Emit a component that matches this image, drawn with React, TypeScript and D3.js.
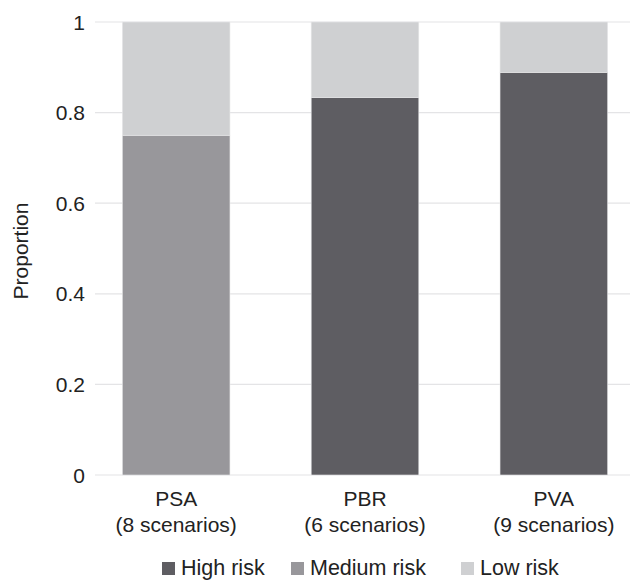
import React from "react";
import * as d3 from "d3";

const categories = ["PSA", "PBR", "PVA"];
const subLabels = ["(8 scenarios)", "(6 scenarios)", "(9 scenarios)"];
const seriesNames = ["High risk", "Medium risk", "Low risk"];
const highRisk = [0, 5 / 6, 8 / 9];
const mediumRisk = [0.75, 0, 0];
const lowRisk = [0.25, 1 / 6, 1 / 9];
const yTicks = [0, 0.2, 0.4, 0.6, 0.8, 1];
const colors = ["#5e5d62", "#98979b", "#cfd0d2"];

const W = 630;
const H = 581;
const FONT = "'Liberation Sans', Arial, Helvetica, sans-serif";

export default function App() {
  const x = d3.scaleBand<string>().domain(categories).range([94, 636]).paddingInner(0.43).paddingOuter(0.15);
  const y = d3.scaleLinear().domain([0, 1]).range([475, 22]);
  const rows = categories.map((c, i) => ({ cat: c, "High risk": highRisk[i], "Medium risk": mediumRisk[i], "Low risk": lowRisk[i] }));
  const stacked = d3.stack<any>().keys(seriesNames)(rows);
  const legendX = [162, 291, 461];

  return (
    <svg width={W} height={H} style={{ position: "absolute", left: 0, top: 0, fontFamily: FONT }}>
      <rect x={0} y={0} width={W} height={H} fill="#fff" />
      {yTicks.map((t) => (
        <g key={t}>
          <line x1={95} x2={630} y1={y(t)} y2={y(t)} stroke="#e4e4e6" strokeWidth={1.2} />
          <text x={85} y={y(t)} dy="0.36em" textAnchor="end" fontSize={21} fill="#222">
            {d3.format("")(t)}
          </text>
        </g>
      ))}
      {stacked.map((s, si) => (
        <g key={s.key} fill={colors[si]}>
          {s.map((d, i) =>
            d[1] - d[0] > 0 ? (
              <rect
                key={i}
                x={x(categories[i])!}
                y={y(d[1])}
                width={x.bandwidth()}
                height={y(d[0]) - y(d[1])}
                stroke="#e8e8ea"
                strokeWidth={0.6}
              />
            ) : null
          )}
        </g>
      ))}
      {categories.map((c, i) => (
        <g key={c}>
          <text x={x(c)! + x.bandwidth() / 2} y={506} textAnchor="middle" fontSize={21} fill="#222">
            {c}
          </text>
          <text x={x(c)! + x.bandwidth() / 2} y={532} textAnchor="middle" fontSize={21} fill="#222">
            {subLabels[i]}
          </text>
        </g>
      ))}
      <text transform={`translate(28,251) rotate(-90)`} textAnchor="middle" fontSize={21} fill="#222">
        Proportion
      </text>
      {seriesNames.map((n, i) => {
        const lx = legendX[i];
        return (
          <g key={n}>
            <rect x={lx} y={562} width={13} height={13} fill={colors[i]} />
            <text x={lx + 19} y={575} fontSize={21.5} fill="#222">
              {n}
            </text>
          </g>
        );
      })}
    </svg>
  );
}
